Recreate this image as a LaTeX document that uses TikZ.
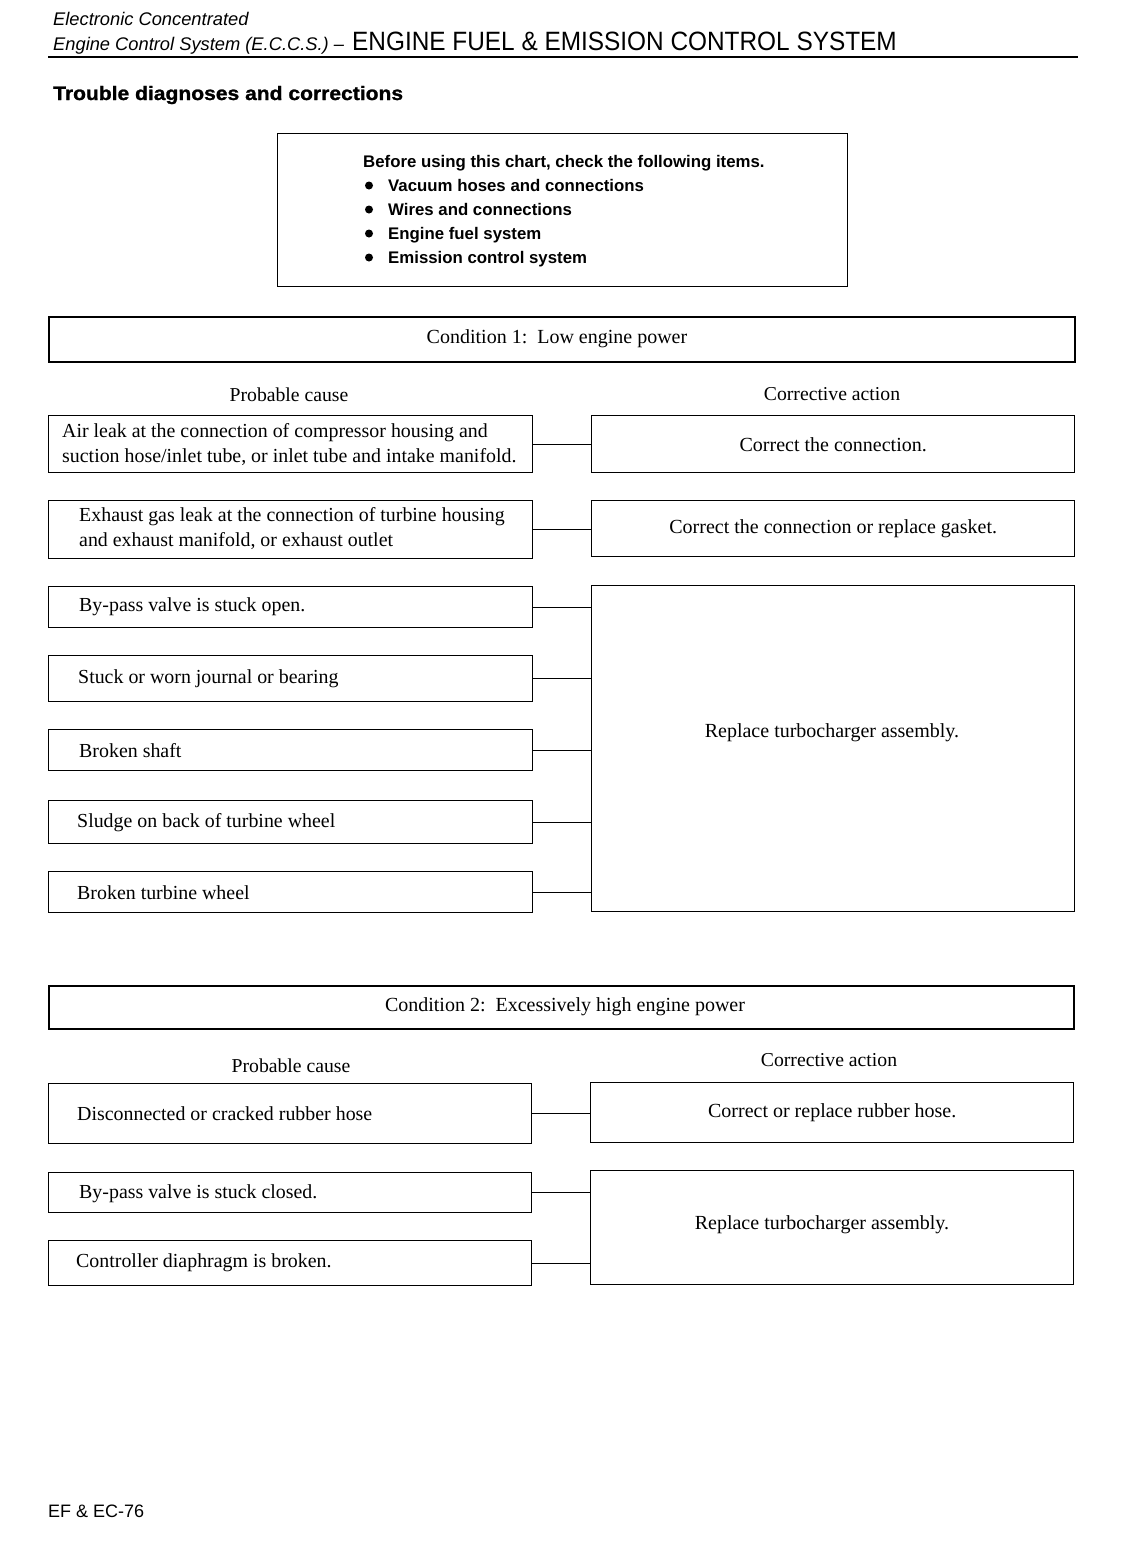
\documentclass[tikz,border=0pt]{standalone}
\usepackage{fontspec}
\setmainfont{Liberation Serif}
\newfontfamily\hsans{Liberation Sans}
\newfontfamily\hsanscond[FakeStretch=0.92]{Liberation Sans}
\newfontfamily\hsansital{Liberation Sans Italic}
\newfontfamily\hsansbold{Liberation Sans Bold}
\newfontfamily\hsansheavy[FakeStretch=1.08,FakeBold=1.2]{Liberation Sans Bold}
\begin{document}
\begin{tikzpicture}[x=1pt,y=-1pt,
  box/.style={draw,line width=1.4pt,inner sep=0pt},
  cond/.style={draw,line width=2.4pt,inner sep=0pt},
  condtext/.style={inner sep=0pt,font=\fontsize{20}{22}\selectfont},
  lbox/.style={box,minimum width=484pt,anchor=north west},
  ltext/.style={anchor=west,inner sep=0pt,align=left,font=\fontsize{19.9}{25}\selectfont},
  rbox/.style={box,minimum width=483pt,align=center,font=\fontsize{20}{25}\selectfont},
  rtext/.style={inner sep=0pt,font=\fontsize{20}{25}\selectfont},
  head/.style={font=\fontsize{19.7}{22}\selectfont},
  chk/.style={anchor=base west,inner sep=0pt,font=\hsansbold\fontsize{16.8}{18}\selectfont},
  link/.style={line width=1.3pt}]
\useasboundingbox (0,0) rectangle (1147,1553);
\fill[white] (0,0) rectangle (1147,1553);
% header
\node[anchor=base west,inner sep=0pt,font=\hsansital\fontsize{18.3}{20}\selectfont] (h1) at (53,25) {Electronic Concentrated};
\node[anchor=base west,inner sep=0pt,font=\hsansital\fontsize{18.3}{20}\selectfont] (h2) at (53,50) {Engine Control System (E.C.C.S.) –};
\node[anchor=base west,inner sep=0pt,font=\hsanscond\fontsize{26.5}{28}\selectfont] (h3) at (352,50) {ENGINE FUEL \& EMISSION CONTROL SYSTEM};
\draw[line width=2.6pt] (48,57) -- (1078,57);
\node[anchor=base west,inner sep=0pt,font=\hsansheavy\fontsize{19.5}{22}\selectfont] (h4) at (53,100) {Trouble diagnoses and corrections};
% checklist
\node[box,minimum width=570pt,minimum height=153pt,anchor=north west] (chk) at (277,133) {};
\node[chk] (c0) at (363,167) {Before using this chart, check the following items.};
\foreach \i/\t/\y in {1/Vacuum hoses and connections/191,2/Wires and connections/215,3/Engine fuel system/239,4/Emission control system/263}{
  \fill (369,\y-5.5) circle (4pt);
  \node[chk] (c\i) at (388,\y) {\t};
}
% condition 1
\node[cond,minimum width=1026pt,minimum height=45pt,anchor=north west] (cond1) at (48,316) {};
\node[condtext] (cond1t) at (557,339) {Condition 1:\, Low engine power};
\node[head] (pc1) at (289,395) {Probable cause};
\node[head] (ca1) at (832,394) {Corrective action};
% left boxes
\node[lbox,minimum height=57pt] (l1) at (48,415) {};
\node[ltext] (l1t) at ([xshift=14pt]l1.west) {Air leak at the connection of compressor housing and\\suction hose/inlet tube, or inlet tube and intake manifold.};
\node[lbox,minimum height=58pt] (l2) at (48,500) {};
\node[ltext] (l2t) at ([xshift=31pt,yshift=1.5pt]l2.west) {Exhaust gas leak at the connection of turbine housing\\and exhaust manifold, or exhaust outlet};
\node[lbox,minimum height=41pt] (l3) at (48,586) {};
\node[ltext] (l3t) at ([xshift=31pt]l3.west) {By-pass valve is stuck open.};
\node[lbox,minimum height=46pt] (l4) at (48,655) {};
\node[ltext] (l4t) at ([xshift=30pt]l4.west) {Stuck or worn journal or bearing};
\node[lbox,minimum height=41pt] (l5) at (48,729) {};
\node[ltext] (l5t) at ([xshift=31pt]l5.west) {Broken shaft};
\node[lbox,minimum height=43pt] (l6) at (48,800) {};
\node[ltext] (l6t) at ([xshift=29pt]l6.west) {Sludge on back of turbine wheel};
\node[lbox,minimum height=41pt] (l7) at (48,871) {};
\node[ltext] (l7t) at ([xshift=29pt]l7.west) {Broken turbine wheel};
% right boxes
\node[rbox,minimum height=57pt,anchor=north west] (r1) at (591,415) {Correct the connection.};
\node[rbox,minimum height=56pt,anchor=north west] (r2) at (591,500) {Correct the connection or replace gasket.};
\node[box,minimum width=483pt,minimum height=326pt,anchor=north west] (r3) at (591,585) {};
\node[rtext] (r3t) at (832,733) {Replace turbocharger assembly.};
% connectors
\draw[link] (l1.east) -- (r1.west |- l1.east);
\draw[link] (l2.east) -- (r2.west |- l2.east);
\foreach \n in {l3,l4,l5,l6,l7}{\draw[link] (\n.east) -- (r3.west |- \n.east);}
% condition 2
\node[cond,minimum width=1025pt,minimum height=43pt,anchor=north west] (cond2) at (48,985) {};
\node[condtext] (cond2t) at (565,1007) {Condition 2:\, Excessively high engine power};
\node[head] (pc2) at (291,1066) {Probable cause};
\node[head] (ca2) at (829,1060) {Corrective action};
\node[lbox,minimum width=483pt,minimum height=60pt] (m1) at (48,1083) {};
\node[ltext] (m1t) at ([xshift=29pt]m1.west) {Disconnected or cracked rubber hose};
\node[lbox,minimum width=483pt,minimum height=40pt] (m2) at (48,1172) {};
\node[ltext] (m2t) at ([xshift=31pt,yshift=-1.5pt]m2.west) {By-pass valve is stuck closed.};
\node[lbox,minimum width=483pt,minimum height=45pt] (m3) at (48,1240) {};
\node[ltext] (m3t) at ([xshift=28pt]m3.west) {Controller diaphragm is broken.};
\node[rbox,minimum height=60pt,anchor=north west] (s1) at (590,1082) {Correct or replace rubber hose.};
\node[box,minimum width=483pt,minimum height=114pt,anchor=north west] (s2) at (590,1170) {};
\node[rtext] (s2t) at (822,1225) {Replace turbocharger assembly.};
\draw[link] (m1.east) -- (s1.west |- m1.east);
\foreach \n in {m2,m3}{\draw[link] (\n.east) -- (s2.west |- \n.east);}
% footer
\node[anchor=base west,inner sep=0pt,font=\hsans\fontsize{18}{20}\selectfont] (ft) at (48,1517) {EF \& EC-76};
\end{tikzpicture}
\end{document}
